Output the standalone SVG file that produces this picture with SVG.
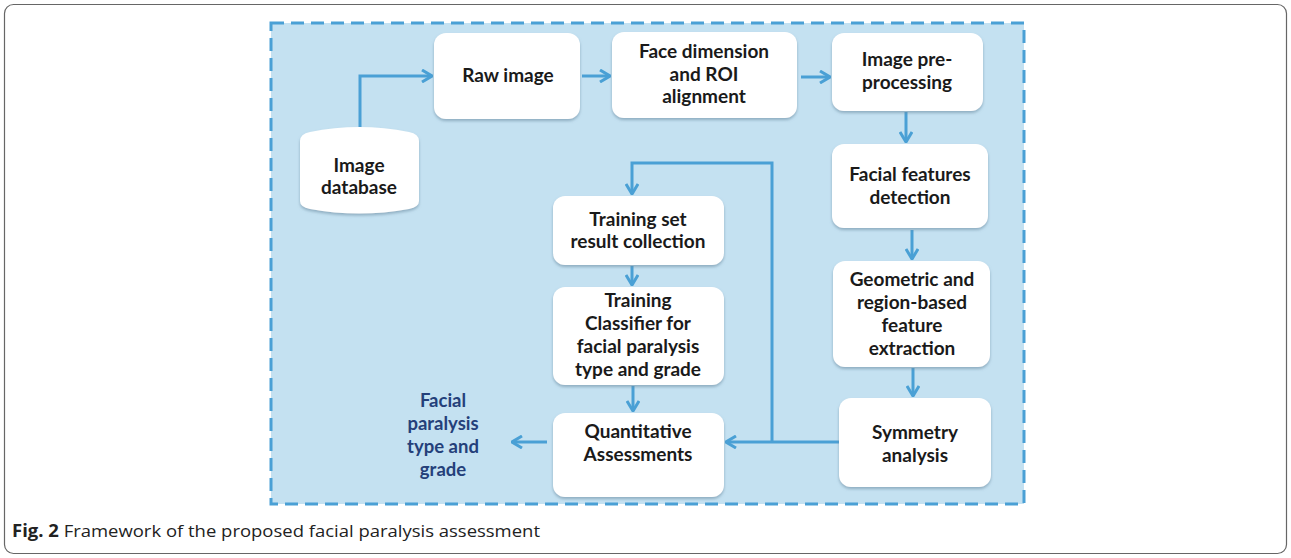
<svg xmlns="http://www.w3.org/2000/svg" width="1291" height="558" viewBox="0 0 1291 558">
<style>
.node{fill:#ffffff;}
.t{font-family:Lato,"Open Sans","Liberation Sans",sans-serif;font-weight:bold;font-size:19px;fill:#1a1a1a;text-anchor:middle;}
.out{font-family:Lato,"Open Sans","Liberation Sans",sans-serif;font-weight:bold;font-size:18.5px;fill:#24407a;text-anchor:middle;}
.c{fill:none;stroke:#4aa0d5;stroke-width:3;}
.cap{font-family:"Open Sans","Liberation Sans",sans-serif;font-size:17px;fill:#222;}
</style>
<defs>
<marker id="ah" viewBox="0 0 12 14" refX="11" refY="7" markerWidth="12" markerHeight="14" markerUnits="userSpaceOnUse" orient="auto">
<path d="M1,1 L11,7 L1,13" fill="none" stroke="#4aa0d5" stroke-width="3" stroke-linejoin="miter"/>
</marker>
<filter id="sh" x="-10%" y="-10%" width="120%" height="130%">
<feDropShadow dx="0" dy="2" stdDeviation="1.5" flood-color="#6a8aa0" flood-opacity="0.6"/>
</filter>
</defs>
<rect x="4.5" y="4.5" width="1282" height="549" rx="9" fill="#ffffff" stroke="#666" stroke-width="1.2"/>
<rect x="271" y="23" width="753" height="481" fill="#c4e1f1" stroke="#4aa0d5" stroke-width="3" stroke-dasharray="13,7"/>

<g id="connectors">
<path class="c" d="M360,128 V76 H432" marker-end="url(#ah)"/>
<path class="c" d="M582,76 H610" marker-end="url(#ah)"/>
<path class="c" d="M801,77 H830" marker-end="url(#ah)"/>
<path class="c" d="M906,112 V142" marker-end="url(#ah)"/>
<path class="c" d="M912,230 V259" marker-end="url(#ah)"/>
<path class="c" d="M913,368 V396" marker-end="url(#ah)"/>
<path class="c" d="M839,442 H726" marker-end="url(#ah)"/>
<path class="c" d="M772,442 V163 H632 V194" marker-end="url(#ah)"/>
<path class="c" d="M632,266 V285" marker-end="url(#ah)"/>
<path class="c" d="M633,386 V411" marker-end="url(#ah)"/>
<path class="c" d="M547,442 H512" marker-end="url(#ah)"/>
</g>

<g id="image-database">
<path class="node" filter="url(#sh)" d="M300,141 Q300,134 310,132 Q359,122 409,132 Q419,134 419,141 L419,201 Q419,207 409,209 Q359,218 310,209 Q300,207 300,201 Z"/>
<text class="t" x="359" y="172">Image</text>
<text class="t" x="359" y="194">database</text>
</g>
<g id="raw-image">
<rect class="node" filter="url(#sh)" x="434" y="33" width="146" height="86" rx="12"/>
<text class="t" x="508" y="82">Raw image</text>
</g>
<g id="face-dimension">
<rect class="node" filter="url(#sh)" x="612" y="32" width="185" height="86" rx="12"/>
<text class="t" x="704" y="58">Face dimension</text>
<text class="t" x="704" y="81">and ROI</text>
<text class="t" x="704" y="103">alignment</text>
</g>
<g id="image-preprocessing">
<rect class="node" filter="url(#sh)" x="832" y="33" width="151" height="78" rx="12"/>
<text class="t" x="907" y="66">Image pre-</text>
<text class="t" x="907" y="89">processing</text>
</g>
<g id="facial-features">
<rect class="node" filter="url(#sh)" x="832" y="144" width="156" height="84" rx="12"/>
<text class="t" x="910" y="181">Facial features</text>
<text class="t" x="910" y="204">detection</text>
</g>
<g id="feature-extraction">
<rect class="node" filter="url(#sh)" x="833" y="261" width="157" height="106" rx="12"/>
<text class="t" x="912" y="286">Geometric and</text>
<text class="t" x="912" y="309">region-based</text>
<text class="t" x="912" y="332">feature</text>
<text class="t" x="912" y="355">extraction</text>
</g>
<g id="symmetry-analysis">
<rect class="node" filter="url(#sh)" x="839" y="398" width="152" height="89" rx="12"/>
<text class="t" x="915" y="439">Symmetry</text>
<text class="t" x="915" y="462">analysis</text>
</g>
<g id="training-set">
<rect class="node" filter="url(#sh)" x="553" y="196" width="171" height="69" rx="12"/>
<text class="t" x="638" y="226">Training set</text>
<text class="t" x="638" y="248">result collection</text>
</g>
<g id="training-classifier">
<rect class="node" filter="url(#sh)" x="553" y="287" width="171" height="98" rx="12"/>
<text class="t" x="638" y="307">Training</text>
<text class="t" x="638" y="330">Classifier for</text>
<text class="t" x="638" y="353">facial paralysis</text>
<text class="t" x="638" y="376">type and grade</text>
</g>
<g id="quantitative-assessments">
<rect class="node" filter="url(#sh)" x="553" y="413" width="171" height="84" rx="12"/>
<text class="t" x="638" y="438">Quantitative</text>
<text class="t" x="638" y="461">Assessments</text>
</g>
<g id="output">
<text class="out" x="443" y="407">Facial</text>
<text class="out" x="443" y="430">paralysis</text>
<text class="out" x="443" y="453">type and</text>
<text class="out" x="443" y="476">grade</text>
</g>
<text class="cap" x="12" y="537" textLength="528" lengthAdjust="spacingAndGlyphs"><tspan font-weight="bold">Fig. 2</tspan> Framework of the proposed facial paralysis assessment</text>
</svg>
